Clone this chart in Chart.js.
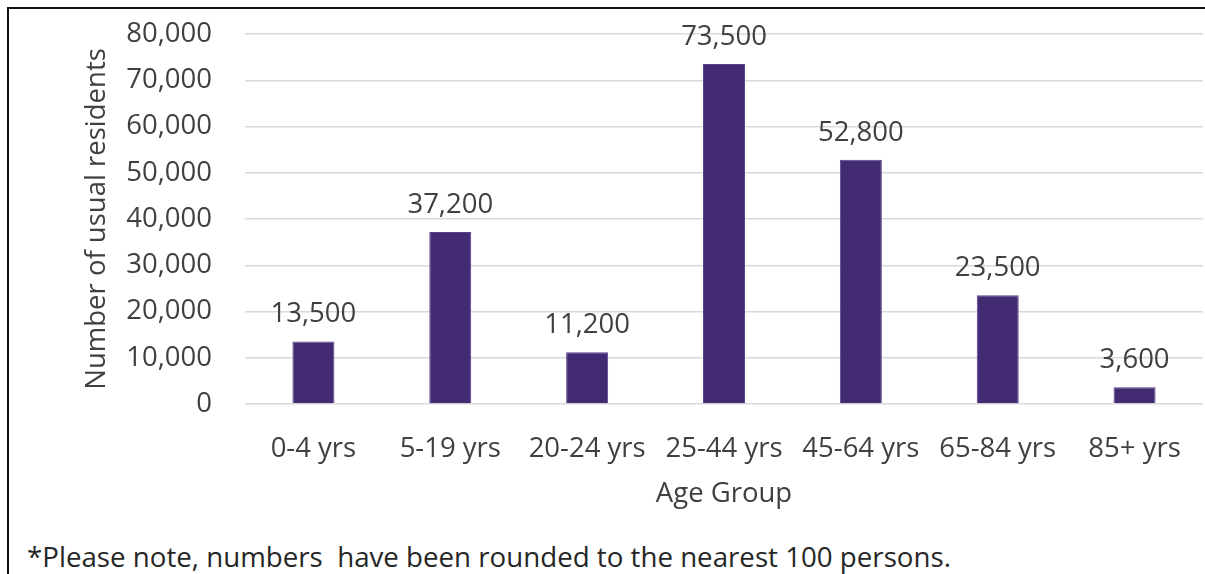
<!DOCTYPE html>
<html>
<head>
<meta charset="utf-8">
<script src="https://cdn.jsdelivr.net/npm/chart.js@4"></script>
<style>
  body { margin: 0; background: #fff; }
  #frame {
    position: absolute; left: 7px; top: 7px; width: 1198px; height: 565px;
    border-top: 2px solid #111; border-left: 2px solid #111; border-bottom: 1px solid #bbb;
  }
  #wrap { position: absolute; left: 0; top: 0; width: 1196px; height: 520px; }
  #note {
    position: absolute; left: 18px; top: 528px;
    font-family: "Open Sans", sans-serif; font-size: 27.7px; color: #262626; white-space: pre;
  }
</style>
</head>
<body>
<div id="frame">
  <div id="wrap"><canvas id="canvas"></canvas></div>
  <div id="note">*Please note, numbers  have been rounded to the nearest 100 persons.</div>
</div>
<script>
var ageGroups = ['0-4 yrs', '5-19 yrs', '20-24 yrs', '25-44 yrs', '45-64 yrs', '65-84 yrs', '85+ yrs'];
var residents = [13500, 37200, 11200, 73500, 52800, 23500, 3600];
var yTicks = [0, 10000, 20000, 30000, 40000, 50000, 60000, 70000, 80000];

var textColor = '#404040';
var font = { family: '"Open Sans", sans-serif', size: 27.5 };

// value labels above each bar
var valueLabels = {
    id: 'valueLabels',
    afterDatasetsDraw: function(chart) {
        var ctx = chart.ctx;
        var meta = chart.getDatasetMeta(0);
        ctx.save();
        ctx.font = '27.5px "Open Sans", sans-serif';
        ctx.fillStyle = textColor;
        ctx.textAlign = 'center';
        ctx.textBaseline = 'middle';
        meta.data.forEach(function(bar, i) {
            ctx.fillText(residents[i].toLocaleString('en-US'), bar.x, bar.y - 27);
        });
        ctx.restore();
    }
};

var ctx = document.getElementById('canvas').getContext('2d');
var config = {
    type: 'bar',
    data: {
        labels: ageGroups,
        datasets: [{
            data: residents,
            backgroundColor: '#432b73',
            borderColor: '#5a4290',
            borderWidth: 1,
            barPercentage: 0.307,
            categoryPercentage: 1
        }]
    },
    options: {
        responsive: true,
        maintainAspectRatio: false,
        animation: false,
        layout: { padding: { top: 25, right: 2, left: 0, bottom: 0 } },
        plugins: {
            legend: { display: false },
            tooltip: { enabled: false }
        },
        scales: {
            x: {
                grid: { display: false, drawTicks: false },
                border: { display: false },
                ticks: { color: textColor, font: font, padding: 29, maxRotation: 0 },
                title: { display: true, text: 'Age Group', color: textColor, font: font, padding: { top: 0, bottom: 18 } },
                afterFit: function(scale) {
                    scale.height = 125;
                    scale.paddingLeft = 0;
                    scale.paddingRight = 0;
                }
            },
            y: {
                min: 0,
                max: 80000,
                afterBuildTicks: function(scale) {
                    scale.ticks = yTicks.map(function(v) { return { value: v }; });
                },
                grid: { color: '#d9d9d9', lineWidth: 1.5, drawTicks: false },
                border: { display: false },
                ticks: {
                    color: textColor, font: font, padding: 33,
                    callback: function(v) { return v.toLocaleString('en-US'); }
                },
                title: { display: true, text: 'Number of usual residents', color: textColor, font: font, padding: { top: 72, bottom: 0 } },
                afterFit: function(scale) {
                    scale.width = 236;
                    scale.paddingTop = 0;
                    scale.paddingBottom = 0;
                }
            }
        }
    },
    plugins: [valueLabels]
};

var chart = new Chart(ctx, config);
</script>
</body>
</html>
